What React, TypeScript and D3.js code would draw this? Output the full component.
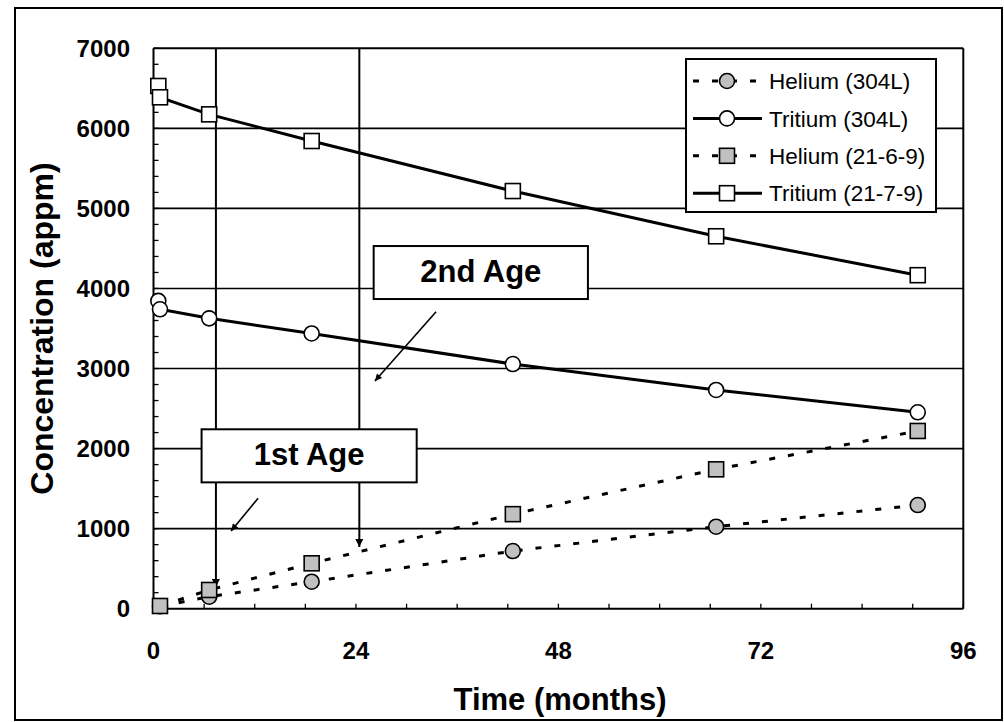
import * as d3 from 'd3';

// ---- data ----
const tritiumMonths = [0.57, 0.77, 6.6, 18.75, 42.6, 66.7, 90.6];
const heliumMonths = [0.77, 6.6, 18.75, 42.6, 66.7, 90.6];

const tritium304L = [3845, 3740, 3627, 3438, 3056, 2732, 2453];
const tritium2179 = [6529, 6388, 6175, 5842, 5217, 4652, 4166];
const helium304L = [30, 150, 337, 720, 1024, 1295];
const helium2169 = [34, 234, 567, 1181, 1741, 2220];

const xTickLabels = [0, 24, 48, 72, 96];
const yTickLabels = [0, 1000, 2000, 3000, 4000, 5000, 6000, 7000];

type Series = {
  name: string;
  months: number[];
  values: number[];
  marker: 'circle' | 'square';
  fill: string;
  dashed: boolean;
};

// drawing order = legend order
const SERIES: Series[] = [
  { name: 'Helium (304L)', months: heliumMonths, values: helium304L, marker: 'circle', fill: '#c0c0c0', dashed: true },
  { name: 'Tritium (304L)', months: tritiumMonths, values: tritium304L, marker: 'circle', fill: '#ffffff', dashed: false },
  { name: 'Helium (21-6-9)', months: heliumMonths, values: helium2169, marker: 'square', fill: '#c0c0c0', dashed: true },
  { name: 'Tritium (21-7-9)', months: tritiumMonths, values: tritium2179, marker: 'square', fill: '#ffffff', dashed: false }
];

// annotations, in data units (months, appm)
const AGE_LINES = [
  { x: 7.4, tip: 271 },
  { x: 24.4, tip: 771 }
];
const AGE_BOXES = [
  { label: '1st Age', x0: 5.7, x1: 31.2, y0: 2241, y1: 1578, ax0: 12.4, ay0: 1379, ax1: 9.2, ay1: 971 },
  { label: '2nd Age', x0: 26.1, x1: 51.5, y0: 4530, y1: 3868, ax0: 33.5, ay0: 3710, ax1: 26.25, ay1: 2844 }
];

const W = 1004;
const H = 722;
const FONT = '"Liberation Sans", Arial, Helvetica, sans-serif';

const x = d3.scaleLinear().domain([0, 96]).range([153.5, 963.3]);
const y = d3.scaleLinear().domain([0, 7000]).range([608.7, 48.3]);

const DASH = '6,13';

function Marker({ kind, cx, cy, fill }: { kind: 'circle' | 'square'; cx: number; cy: number; fill: string }) {
  if (kind === 'circle')
    return <circle cx={cx} cy={cy} r={7.5} fill={fill} stroke="#000" strokeWidth={1.6} />;
  return <rect x={cx - 7.5} y={cy - 7.5} width={15} height={15} fill={fill} stroke="#000" strokeWidth={1.6} />;
}

export default function App() {
  const line = d3
    .line<[number, number]>()
    .x((d) => x(d[0]))
    .y((d) => y(d[1]));

  const yMinor = d3.range(0, 7001, 200);
  const xMinor = d3.range(0, 97, 6);
  const grid = yTickLabels.filter((v) => v > 0 && v < 7000);

  const [xl, xr] = x.range();
  const [yb, yt] = y.range();

  const legendX = 686;
  const legendY = 59;
  const legendRowY = (i: number) => 81 + i * 37.4;

  return (
    <svg
      width={W}
      height={H}
      style={{ position: 'absolute', left: 0, top: 0, background: '#fff' }}
      fontFamily={FONT}
    >
      <defs>
        <marker id="arrowV" viewBox="0 0 10 10" refX="10" refY="5" markerWidth="10" markerHeight="8" markerUnits="userSpaceOnUse" orient="auto">
          <path d="M0,0 L10,5 L0,10 z" fill="#000" />
        </marker>
        <marker id="arrowD" viewBox="0 0 10 10" refX="10" refY="5" markerWidth="9" markerHeight="7" markerUnits="userSpaceOnUse" orient="auto">
          <path d="M0,0 L10,5 L0,10 z" fill="#000" />
        </marker>
      </defs>

      {/* outer frame */}
      <rect x={15} y={8} width={987} height={712} fill="none" stroke="#000" strokeWidth={2} />

      {/* gridlines */}
      {grid.map((v) => (
        <line key={v} x1={xl} x2={xr} y1={y(v)} y2={y(v)} stroke="#000" strokeWidth={1.6} />
      ))}

      {/* plot frame: top and right */}
      <line x1={xl} x2={xr} y1={yt} y2={yt} stroke="#000" strokeWidth={2} />
      <line x1={xr} x2={xr} y1={yt} y2={yb} stroke="#000" strokeWidth={2} />

      {/* axes */}
      <line x1={xl} x2={xl} y1={yt} y2={yb} stroke="#000" strokeWidth={2} />
      <line x1={xl} x2={xr} y1={yb} y2={yb} stroke="#000" strokeWidth={2} />
      {yMinor.map((v) => (
        <line key={'ym' + v} x1={xl} x2={xl + 5} y1={y(v)} y2={y(v)} stroke="#000" strokeWidth={1.3} />
      ))}
      {xMinor.map((m) => (
        <line key={'xm' + m} x1={x(m)} x2={x(m)} y1={yb} y2={yb - 5} stroke="#000" strokeWidth={1.3} />
      ))}

      {/* tick labels */}
      {yTickLabels.map((v) => (
        <text key={'yl' + v} x={130} y={y(v)} dy="0.36em" textAnchor="end" fontSize={24} fontWeight="bold">
          {v}
        </text>
      ))}
      {xTickLabels.map((m) => (
        <text key={'xl' + m} x={x(m)} y={659} textAnchor="middle" fontSize={24} fontWeight="bold">
          {m}
        </text>
      ))}

      {/* axis titles */}
      <text x={560} y={710} textAnchor="middle" fontSize={31} fontWeight="bold">
        Time (months)
      </text>
      <text
        transform={`translate(53,${(yt + yb) / 2}) rotate(-90)`}
        textAnchor="middle"
        fontSize={32}
        fontWeight="bold"
      >
        Concentration (appm)
      </text>

      {/* age vertical arrows */}
      {AGE_LINES.map((a, i) => (
        <line key={'age' + i} x1={x(a.x)} x2={x(a.x)} y1={yt} y2={y(a.tip)} stroke="#000" strokeWidth={2} markerEnd="url(#arrowV)" />
      ))}

      {/* age boxes with diagonal arrows */}
      {AGE_BOXES.map((b) => (
        <g key={b.label}>
          <rect x={x(b.x0)} y={y(b.y0)} width={x(b.x1) - x(b.x0)} height={y(b.y1) - y(b.y0)} fill="#fff" stroke="#000" strokeWidth={2} />
          <text
            x={(x(b.x0) + x(b.x1)) / 2}
            y={(y(b.y0) + y(b.y1)) / 2 + 9}
            textAnchor="middle"
            fontSize={31}
            fontWeight="bold"
          >
            {b.label}
          </text>
          <line x1={x(b.ax0)} y1={y(b.ay0)} x2={x(b.ax1)} y2={y(b.ay1)} stroke="#000" strokeWidth={1.6} markerEnd="url(#arrowD)" />
        </g>
      ))}

      {/* series */}
      {SERIES.map((s) => {
        const pts = s.months.map((m, i) => [m, s.values[i]] as [number, number]);
        return (
          <g key={s.name}>
            <path
              d={line(pts) ?? ''}
              fill="none"
              stroke="#000"
              strokeWidth={3}
              strokeDasharray={s.dashed ? DASH : undefined}
            />
            {pts.map((p, i) => (
              <Marker key={i} kind={s.marker} cx={x(p[0])} cy={y(p[1])} fill={s.fill} />
            ))}
          </g>
        );
      })}

      {/* legend */}
      <rect x={legendX} y={legendY} width={250} height={153} fill="#fff" stroke="#000" strokeWidth={2} />
      {SERIES.map((s, i) => {
        const cy = legendRowY(i);
        return (
          <g key={'lg' + s.name}>
            <line x1={693} x2={762} y1={cy} y2={cy} stroke="#000" strokeWidth={3} strokeDasharray={s.dashed ? DASH : undefined} />
            <Marker kind={s.marker} cx={727} cy={cy} fill={s.fill} />
            <text x={769} y={cy} dy="0.36em" fontSize={22.5}>
              {s.name}
            </text>
          </g>
        );
      })}
    </svg>
  );
}
